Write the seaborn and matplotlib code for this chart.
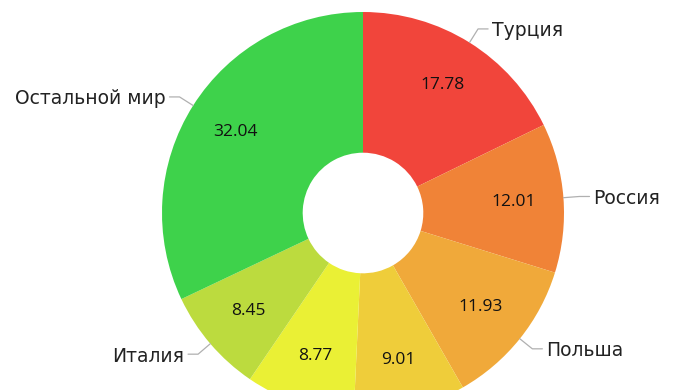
import numpy as np
import pandas as pd
import seaborn as sns
import matplotlib.pyplot as plt

# shares by country, clockwise from the top
countries = ['Турция', 'Россия', 'Польша', '', '', 'Италия', 'Остальной мир']
shares = [17.78, 12.01, 11.93, 9.01, 8.77, 8.45, 32.04]
colors = ['#f1453b', '#f08337', '#f0a93a', '#efcd3a', '#eaf035', '#bcdb3e', '#3ed24b']

df = pd.DataFrame({'country': countries, 'share': shares, 'color': colors})

sns.set_theme(style='white')
plt.rcParams['font.family'] = ['Open Sans', 'DejaVu Sans']

fig = plt.figure(figsize=(6.76, 3.90), dpi=100)
ax = fig.add_axes([0, 0, 1, 1])

wedges, texts, autotexts = ax.pie(
    df['share'], colors=df['color'], startangle=90, counterclock=False,
    wedgeprops=dict(width=0.70, linewidth=0),
    autopct=lambda p: f'{p:.2f}', pctdistance=0.75,
    textprops=dict(fontsize=12.5, color='#111111'))

# outer labels with elbow leader lines
for w, name in zip(wedges, df['country']):
    if not name:
        continue
    theta = np.deg2rad((w.theta1 + w.theta2) / 2)
    c, s = np.cos(theta), np.sin(theta)
    x0, y0 = 1.0 * c, 1.0 * s
    x1, y1 = 1.08 * c, 1.08 * s
    side = 1 if c >= 0 else -1
    x2 = x1 + side * 0.05
    ax.plot([x0, x1, x2], [y0, y1, y1], color='#b0b0b0', lw=0.9)
    ax.text(x2 + side * 0.02, y1, name, ha='left' if side > 0 else 'right',
            va='center_baseline', fontsize=13.5, color='#222222',
            family='DejaVu Sans')

px = 201.0
ax.set_xlim(-363 / px, 313 / px)
ax.set_ylim(-177 / px, 213 / px)
ax.set_aspect('auto')
ax.axis('off')

fig.savefig('out.png', dpi=100)
